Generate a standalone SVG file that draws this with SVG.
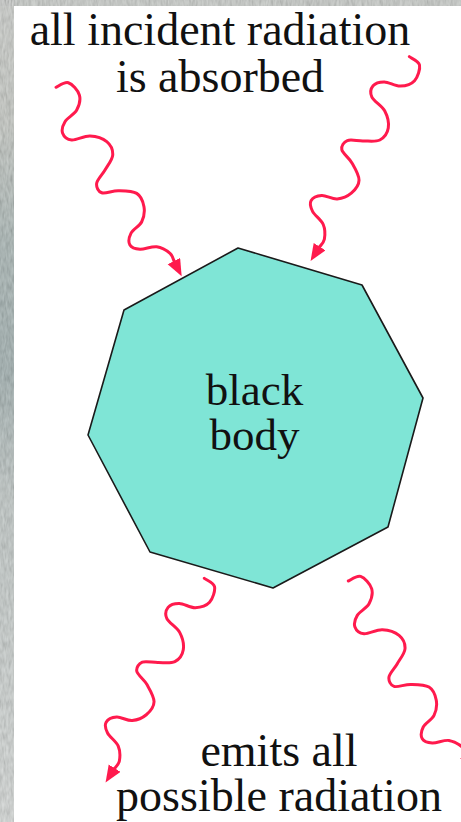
<svg xmlns="http://www.w3.org/2000/svg" xmlns:xlink="http://www.w3.org/1999/xlink" width="461" height="822" viewBox="0 0 461 822">
  <defs>
    <style>
      .lbl { fill: #111; text-anchor: middle; }
      .ray { fill: none; stroke: #ff1a4d; stroke-width: 3; stroke-linecap: round; stroke-linejoin: round; marker-end: url(#head); }
    </style>
    <linearGradient id="stripV" x1="0" y1="0" x2="0" y2="1">
      <stop offset="0" stop-color="#c9ccc8"/>
      <stop offset="0.15" stop-color="#bfc3bd"/>
      <stop offset="0.3" stop-color="#9eaeac"/>
      <stop offset="0.45" stop-color="#93a5a5"/>
      <stop offset="0.6" stop-color="#b9c2c0"/>
      <stop offset="1" stop-color="#d3d7d5"/>
    </linearGradient>
    <filter id="grain" x="0" y="0" width="1" height="1">
      <feTurbulence type="fractalNoise" baseFrequency="0.45 0.12" numOctaves="2" seed="4"/>
      <feColorMatrix type="saturate" values="0"/>
      <feComponentTransfer>
        <feFuncA type="linear" slope="0" intercept="0.35"/>
      </feComponentTransfer>
    </filter>
    <marker id="head" markerUnits="userSpaceOnUse" markerWidth="20" markerHeight="16" refX="1" refY="7" orient="auto">
      <path d="M0,0 L17,7 L0,14 Z" fill="#ff1a4d"/>
    </marker>
    <path id="wave" d="M0,0 C0.5,-2.13 -0.22,-10.27 3,-12.8 C6.22,-15.33 14.73,-16.55 19.3,-15.2 C23.87,-13.850 28.02,-9.15 30.4,-4.7 C32.78,-0.25 31.67,7.4 33.6,11.5 C35.53,15.6 38.83,19.13 42,19.9 C45.17,20.67 49.7,19.65 52.6,16.1 C55.5,12.55 55.93,3.32 59.4,-1.4 C62.87,-6.12 68.67,-10.8 73.4,-12.2 C78.13,-13.6 84.03,-12.65 87.8,-9.8 C91.57,-6.95 93.55,0.07 96,4.9 C98.45,9.73 99.65,16.65 102.5,19.2 C105.35,21.75 110.08,22.52 113.1,20.2 C116.12,17.88 117.28,10.1 120.6,5.3 C123.92,0.5 128.42,-6.5 133,-8.6 C137.58,-10.7 143.7,-9.22 148.1,-7.3 C152.5,-5.38 156.9,-1.37 159.4,2.9 C161.9,7.17 160.95,14.52 163.1,18.3 C165.25,22.08 169.25,25.38 172.3,25.6 C175.35,25.82 178.7,23.15 181.4,19.6 C184.1,16.05 185.17,8.1 188.5,4.3 C191.83,0.5 197.650,-2.15 201.4,-3.2 C205.15,-4.25 209.2,-2.2 211,-2"/>
  </defs>

  <g id="background">
    <rect x="0" y="0" width="461" height="822" fill="#ffffff"/>
    <rect x="0" y="0" width="14" height="822" fill="url(#stripV)"/>
    <rect x="0" y="0" width="461" height="6" fill="#c4c8c4"/>
    <rect x="0" y="0" width="14" height="822" filter="url(#grain)"/>
    <rect x="0" y="0" width="461" height="6" filter="url(#grain)"/>
  </g>

  <g id="black-body">
    <polygon points="238,248 362,285 423,398 388,527 273,588 150,552 88,435 124,310" fill="#7fe5d6" stroke="#1a1a1a" stroke-width="1.6" stroke-linejoin="round"/>
    <text class="lbl" font-family="'Liberation Serif', 'Times New Roman', 'DejaVu Serif', serif" font-size="45" x="254.5" y="405"><tspan x="254.5" y="405">black</tspan><tspan x="254.5" y="450">body</tspan></text>
  </g>

  <g id="label-absorbed">
    <text class="lbl" font-family="'Liberation Serif', 'Times New Roman', 'DejaVu Serif', serif" font-size="46" x="220" y="45"><tspan x="220" y="45">all incident radiation</tspan><tspan x="220" y="92">is absorbed</tspan></text>
  </g>

  <g id="label-emits">
    <text class="lbl" font-family="'Liberation Serif', 'Times New Roman', 'DejaVu Serif', serif" font-size="46" x="279" y="766"><tspan x="279" y="766">emits all</tspan><tspan x="279" y="811">possible radiation</tspan></text>
  </g>

  <g id="connectors">
    <use xlink:href="#wave" href="#wave" class="ray" transform="translate(56,87.3) rotate(56.43)"/>
    <use xlink:href="#wave" href="#wave" class="ray" transform="translate(409.3,56.7) rotate(115.85)"/>
    <use xlink:href="#wave" href="#wave" class="ray" transform="translate(204.3,578.3) rotate(115.85)"/>
    <use xlink:href="#wave" href="#wave" class="ray" transform="translate(348.3,581) rotate(56.43)"/>
  </g>
</svg>
